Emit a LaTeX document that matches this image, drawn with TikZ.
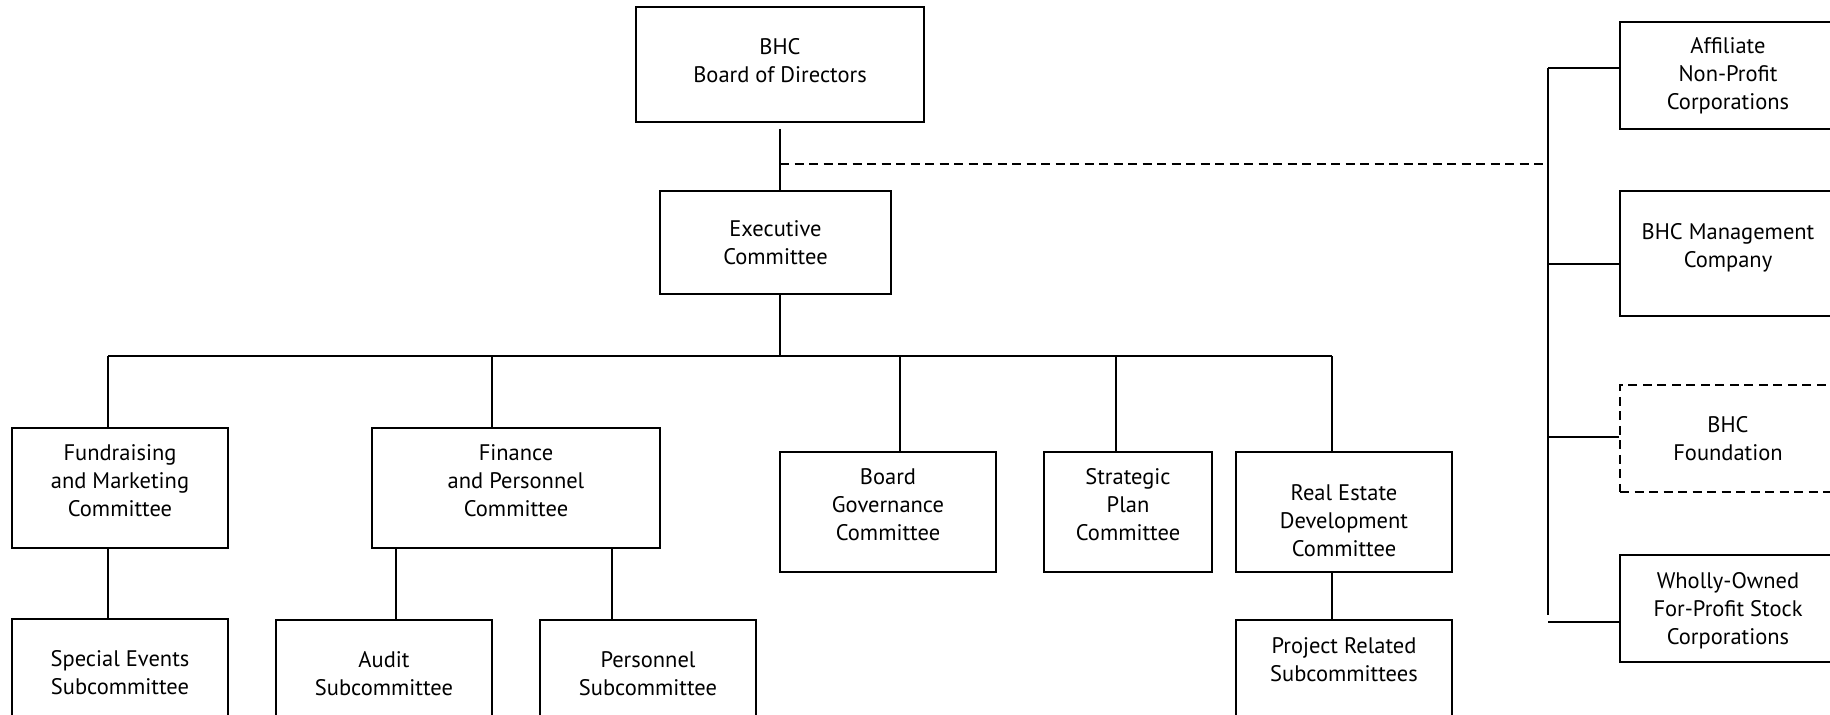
\documentclass[tikz,border=0pt]{standalone}
\usepackage{fontspec}
\setmainfont{PT Sans}
\begin{document}
\begin{tikzpicture}[x=0.5pt, y=-0.5pt,
        box/.style={rectangle, draw=black, fill=white, line width=1pt, inner sep=0pt, align=center,
            font=\fontsize{11.25}{14}\selectfont, text depth=0.5pt},
        link/.style={line width=1pt, black},
        dashline/.style={dash pattern=on 4.5pt off 2.75pt}]
    \useasboundingbox (0,0) rectangle (1830,715);
    \clip (0,0) rectangle (1830,715);

    % top of the tree
    \node[box, minimum width=144pt, minimum height=57.5pt, text depth=4pt] (board) at (780,64.5) {BHC\\Board of Directors};
    \node[box, minimum width=115.5pt, minimum height=51.5pt, text depth=0pt] (exec) at (775.5,242.5) {Executive\\Committee};

    % committees
    \node[box, minimum width=108pt, minimum height=60pt, text depth=7.5pt] (fund) at (120,488) {Fundraising\\and Marketing\\Committee};
    \node[box, minimum width=144pt, minimum height=60pt, text depth=7.5pt] (finance) at (516,488) {Finance\\and Personnel\\Committee};
    \node[box, minimum width=108pt, minimum height=60pt, text depth=7.5pt] (govern) at (888,512) {Board\\Governance\\Committee};
    \node[box, minimum width=84pt, minimum height=60pt, text depth=7.5pt] (strategic) at (1128,512) {Strategic\\Plan\\Committee};
    \node[box, minimum width=108pt, minimum height=60pt, text depth=0pt, text height=44.5pt] (estate) at (1344,512) {Real Estate\\Development\\Committee};

    % subcommittees
    \node[box, minimum width=108pt, minimum height=54pt] (special) at (120,673) {Special Events\\Subcommittee};
    \node[box, minimum width=108pt, minimum height=54pt] (audit) at (384,674) {Audit\\Subcommittee};
    \node[box, minimum width=108pt, minimum height=54pt] (personnel) at (648,674) {Personnel\\Subcommittee};
    \node[box, minimum width=108pt, minimum height=50pt, text depth=10pt] (project) at (1344,670) {Project Related\\Subcommittees};

    % affiliates on the right
    \node[box, minimum width=108pt, minimum height=53.5pt, text depth=2pt] (affiliate) at (1728,75.5) {Affiliate\\Non-Profit\\Corporations};
    \node[box, minimum width=108pt, minimum height=62.5pt, text depth=8pt] (manage) at (1728,253.5) {BHC Management\\Company};
    \node[box, dashline, minimum width=108pt, minimum height=53.5pt] (foundation) at (1728,438.5) {BHC\\Foundation};
    \node[box, minimum width=108pt, minimum height=53.5pt] (wholly) at (1728,608.5) {Wholly-Owned\\For-Profit Stock\\Corporations};

    % board and executive
    \draw[link] ([yshift=-3pt]board.south) -- (board.south |- exec.north);
    \coordinate (busL) at (108,356);
    \coordinate (busR) at (1332,356);
    \draw[link] (board.south |- exec.south) -- (board.south |- busL);
    \draw[link] (busL) -- (busR);
    \foreach \nd/\dx in {fund/-12, finance/-24, govern/12, strategic/-12, estate/-12}
        {
            \pgfmathsetmacro\dist{\dx / 2};
            \draw[link] ([xshift = \dist pt]\nd.north) -- ([xshift = \dist pt]\nd.north |- busL);
        }

    % down to the subcommittees
    \draw[link] ([xshift=-6pt]fund.south) -- ([xshift=-6pt]fund.south |- special.north);
    \draw[link] ([xshift=6pt]audit.north) -- ([xshift=6pt]audit.north |- finance.south);
    \draw[link] ([xshift=-18pt]personnel.north) -- ([xshift=-18pt]personnel.north |- finance.south);
    \draw[link] ([xshift=-6pt]estate.south) -- ([xshift=-6pt]estate.south |- project.north);

    % spine on the right
    \coordinate (dashend) at (1543,164);
    \draw[link, dashline] (board.south |- dashend) -- (dashend);
    \foreach \nd/\yy in {affiliate/68, manage/264, foundation/437, wholly/622}
        {
            \coordinate (br\nd) at (1548,\yy);
            \draw[link] (br\nd) -- (br\nd -| \nd.west);
        }
    \draw[link] (braffiliate) -- ([yshift=3.5pt]brwholly);
\end{tikzpicture}
\end{document}
